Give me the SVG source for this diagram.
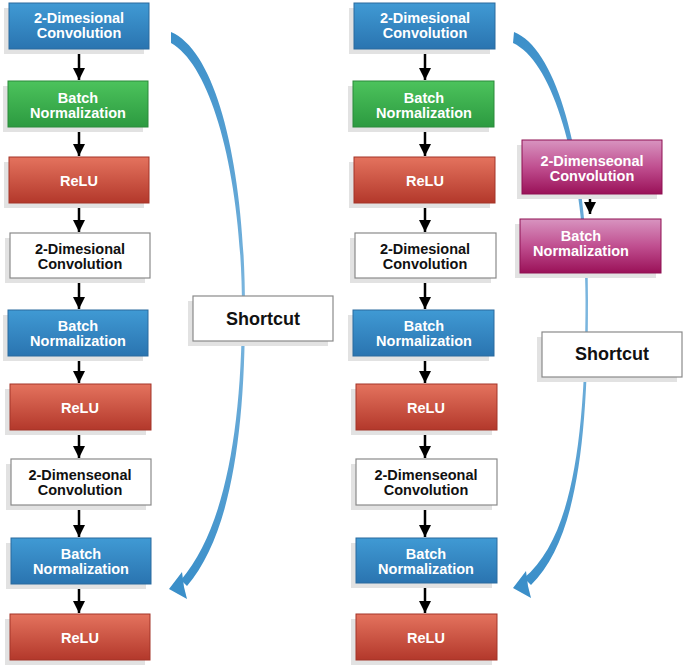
<svg xmlns="http://www.w3.org/2000/svg" width="685" height="667" viewBox="0 0 685 667">
<defs>
<linearGradient id="gBlue" x1="0" y1="0" x2="0" y2="1"><stop offset="0" stop-color="#409ad4"/><stop offset="1" stop-color="#2a74b0"/></linearGradient>
<linearGradient id="gGreen" x1="0" y1="0" x2="0" y2="1"><stop offset="0" stop-color="#4cc35c"/><stop offset="1" stop-color="#2c9a40"/></linearGradient>
<linearGradient id="gRed" x1="0" y1="0" x2="0" y2="1"><stop offset="0" stop-color="#e4735e"/><stop offset="1" stop-color="#b3382b"/></linearGradient>
<linearGradient id="gMag" x1="0" y1="0" x2="0" y2="1"><stop offset="0" stop-color="#d894c0"/><stop offset="0.5" stop-color="#c04f90"/><stop offset="1" stop-color="#9a1158"/></linearGradient>
<linearGradient id="gCurve" x1="0" y1="0" x2="0" y2="1"><stop offset="0" stop-color="#3b8fc9"/><stop offset="0.5" stop-color="#7db7df"/><stop offset="1" stop-color="#3b8fc9"/></linearGradient>
<marker id="ah" markerUnits="userSpaceOnUse" markerWidth="12" markerHeight="12" refX="12" refY="6" orient="auto" viewBox="0 0 12 12">
<path d="M0,0 L12,6 L0,12 Z" fill="#000"/>
</marker>
</defs>
<style>
.sh{fill:#e2e2e2}
.blue{fill:url(#gBlue);stroke:#2a6a9e;stroke-width:1}
.green{fill:url(#gGreen);stroke:#2a8a3a;stroke-width:1}
.red{fill:url(#gRed);stroke:#a33528;stroke-width:1}
.mag{fill:url(#gMag);stroke:#8e1052;stroke-width:1}
.white{fill:#fff;stroke:#8a8a8a;stroke-width:1.2}
.wt{font-family:"Liberation Sans",Arial,sans-serif;font-weight:bold;font-size:14.5px;fill:#fff;text-anchor:middle}
.bt{font-family:"Liberation Sans",Arial,sans-serif;font-weight:bold;font-size:14.5px;fill:#111;text-anchor:middle}
.st{font-family:"Liberation Sans",Arial,sans-serif;font-weight:bold;font-size:18px;fill:#111;text-anchor:middle}
.ar{stroke:#000;stroke-width:2.5;fill:none}
.curve{fill:url(#gCurve)}
.ch{fill:#3b8fc9}
</style>
<rect width="685" height="667" fill="#fff"/>
<g id="connectors">
<path class="curve" d="M171,32 C218,52 245,170 245,310 C245,432 231,535 187,586 L181,580 C225,528 241.5,430 242,310 C242,176 212,66 171,43 Z"/>
<path class="ch" d="M182,572 L169,589 L187,599 L184,587 Z"/>
<path class="curve" d="M514,32 C560,50 588,170 588,300 C588,440 577,540 531,585 L524,578 C572,538 585.5,440 585.5,300 C585,175 556,63 513,43 Z"/>
<path class="ch" d="M526,571 L513,588 L531,598 L528,586 Z"/>
<g marker-end="url(#ah)">
<line class="ar" x1="79" y1="49" x2="79" y2="80"/>
<line class="ar" x1="79" y1="127" x2="79" y2="156"/>
<line class="ar" x1="79" y1="203" x2="79" y2="232"/>
<line class="ar" x1="79" y1="278" x2="79" y2="309"/>
<line class="ar" x1="79" y1="356" x2="79" y2="383"/>
<line class="ar" x1="79" y1="430" x2="79" y2="458"/>
<line class="ar" x1="79" y1="505" x2="79" y2="537"/>
<line class="ar" x1="79" y1="584" x2="79" y2="613"/>
<line class="ar" x1="425" y1="49" x2="425" y2="80"/>
<line class="ar" x1="425" y1="127" x2="425" y2="156"/>
<line class="ar" x1="425" y1="203" x2="425" y2="232"/>
<line class="ar" x1="425" y1="278" x2="425" y2="309"/>
<line class="ar" x1="425" y1="356" x2="425" y2="383"/>
<line class="ar" x1="425" y1="430" x2="425" y2="458"/>
<line class="ar" x1="425" y1="505" x2="425" y2="537"/>
<line class="ar" x1="425" y1="583" x2="425" y2="613"/>
<line class="ar" x1="590" y1="194" x2="590" y2="214"/>
</g>
</g>
<g id="L1"><rect class="sh" x="4" y="8" width="140" height="46"/><rect class="blue" x="9" y="3" width="140" height="46"/><text class="wt" x="79" y="23">2-Dimesional</text><text class="wt" x="79" y="38">Convolution</text></g>
<g id="L2"><rect class="sh" x="3" y="86" width="140" height="46"/><rect class="green" x="8" y="81" width="140" height="46"/><text class="wt" x="78" y="103">Batch</text><text class="wt" x="78" y="118">Normalization</text></g>
<g id="L3"><rect class="sh" x="4" y="162" width="140" height="46"/><rect class="red" x="9" y="157" width="140" height="46"/><text class="wt" x="79" y="186">ReLU</text></g>
<g id="L4"><rect class="sh" x="5" y="238" width="140" height="45"/><rect class="white" x="10" y="233" width="140" height="45"/><text class="bt" x="80" y="254">2-Dimesional</text><text class="bt" x="80" y="269">Convolution</text></g>
<g id="L5"><rect class="sh" x="3" y="315" width="140" height="46"/><rect class="blue" x="8" y="310" width="140" height="46"/><text class="wt" x="78" y="331">Batch</text><text class="wt" x="78" y="346">Normalization</text></g>
<g id="L6"><rect class="sh" x="5" y="389" width="141" height="46"/><rect class="red" x="10" y="384" width="141" height="46"/><text class="wt" x="80" y="413">ReLU</text></g>
<g id="L7"><rect class="sh" x="6" y="464" width="140" height="46"/><rect class="white" x="11" y="459" width="140" height="46"/><text class="bt" x="80" y="480">2-Dimenseonal</text><text class="bt" x="80" y="495">Convolution</text></g>
<g id="L8"><rect class="sh" x="6" y="543" width="140" height="46"/><rect class="blue" x="11" y="538" width="140" height="46"/><text class="wt" x="81" y="559">Batch</text><text class="wt" x="81" y="574">Normalization</text></g>
<g id="L9"><rect class="sh" x="5" y="619" width="140" height="46"/><rect class="red" x="10" y="614" width="140" height="46"/><text class="wt" x="80" y="643">ReLU</text></g>
<g id="R1"><rect class="sh" x="349" y="8" width="141" height="46"/><rect class="blue" x="354" y="3" width="141" height="46"/><text class="wt" x="425" y="23">2-Dimesional</text><text class="wt" x="425" y="38">Convolution</text></g>
<g id="R2"><rect class="sh" x="348" y="86" width="141" height="46"/><rect class="green" x="353" y="81" width="141" height="46"/><text class="wt" x="424" y="103">Batch</text><text class="wt" x="424" y="118">Normalization</text></g>
<g id="R3"><rect class="sh" x="349" y="162" width="141" height="46"/><rect class="red" x="354" y="157" width="141" height="46"/><text class="wt" x="425" y="186">ReLU</text></g>
<g id="R4"><rect class="sh" x="350" y="238" width="141" height="45"/><rect class="white" x="355" y="233" width="141" height="45"/><text class="bt" x="425" y="254">2-Dimesional</text><text class="bt" x="425" y="269">Convolution</text></g>
<g id="R5"><rect class="sh" x="348" y="315" width="141" height="46"/><rect class="blue" x="353" y="310" width="141" height="46"/><text class="wt" x="424" y="331">Batch</text><text class="wt" x="424" y="346">Normalization</text></g>
<g id="R6"><rect class="sh" x="351" y="389" width="141" height="46"/><rect class="red" x="356" y="384" width="141" height="46"/><text class="wt" x="426" y="413">ReLU</text></g>
<g id="R7"><rect class="sh" x="351" y="464" width="141" height="46"/><rect class="white" x="356" y="459" width="141" height="46"/><text class="bt" x="426" y="480">2-Dimenseonal</text><text class="bt" x="426" y="495">Convolution</text></g>
<g id="R8"><rect class="sh" x="351" y="543" width="141" height="45"/><rect class="blue" x="356" y="538" width="141" height="45"/><text class="wt" x="426" y="559">Batch</text><text class="wt" x="426" y="574">Normalization</text></g>
<g id="R9"><rect class="sh" x="351" y="619" width="141" height="46"/><rect class="red" x="356" y="614" width="141" height="46"/><text class="wt" x="426" y="643">ReLU</text></g>
<g id="M1"><rect class="sh" x="517" y="145" width="140" height="54"/><rect class="mag" x="522" y="140" width="140" height="54"/><text class="wt" x="592" y="166">2-Dimenseonal</text><text class="wt" x="592" y="181">Convolution</text></g>
<g id="M2"><rect class="sh" x="515" y="224" width="141" height="54"/><rect class="mag" x="520" y="219" width="141" height="54"/><text class="wt" x="581" y="241">Batch</text><text class="wt" x="581" y="256">Normalization</text></g>
<g id="S1"><rect class="sh" x="188" y="301" width="140" height="45"/><rect class="white" x="193" y="296" width="140" height="45"/><text class="st" x="263" y="325">Shortcut</text></g>
<g id="S2"><rect class="sh" x="537" y="337" width="140" height="45"/><rect class="white" x="542" y="332" width="140" height="45"/><text class="st" x="612" y="360">Shortcut</text></g>
</svg>
